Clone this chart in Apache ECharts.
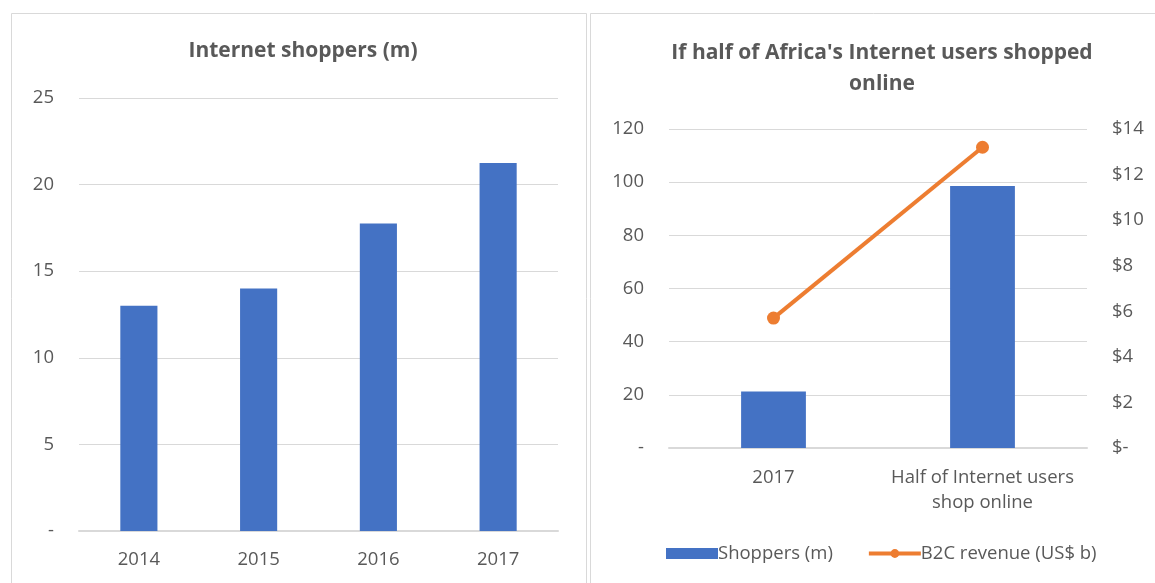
<!DOCTYPE html>
<html>
<head>
<meta charset="utf-8">
<script src="https://cdn.jsdelivr.net/npm/echarts@6/dist/echarts.min.js"></script>
<style>
html,body{margin:0;padding:0;background:#fff;}
#c{width:1155px;height:583px;}
</style>
</head>
<body>
<div id="c"></div>
<script>
// Left chart data
const years = ['2014', '2015', '2016', '2017'];
const shoppersByYear = [13.0, 14.0, 17.75, 21.25];
const leftTitle = 'Internet shoppers (m)';

// Right chart data
const scenarios = ['2017', 'Half of Internet users\nshop online'];
const shoppersScenario = [21.3, 98.6];
const b2cRevenue = [5.7, 13.2];
const rightTitle = "If half of Africa's Internet users shopped\nonline";
const seriesNames = ['Shoppers (m)', 'B2C revenue (US$ b)'];

const FONT = '"Open Sans", sans-serif';
const TXT = '#595959';
const GRID = '#d9d9d9';
const BLUE = '#4472C4';
const ORANGE = '#ED7D31';

const chart = echarts.init(document.getElementById('c'));
const labelStyle = {color: TXT, fontFamily: FONT, fontSize: 18.5};

chart.setOption({
  animation: false,
  backgroundColor: '#fff',
  graphic: [
    {type: 'rect', shape: {x: 11.5, y: 13.5, width: 575, height: 600}, style: {fill: 'none', stroke: GRID, lineWidth: 1}, silent: true, z: -1},
    {type: 'rect', shape: {x: 590.5, y: 13.5, width: 600, height: 600}, style: {fill: 'none', stroke: GRID, lineWidth: 1}, silent: true, z: -1}
  ],
  title: [
    {text: leftTitle, left: 298, top: 36, textAlign: 'center',
     textStyle: {color: TXT, fontFamily: FONT, fontWeight: 'bold', fontSize: 21}},
    {text: rightTitle, left: 877, top: 33, textAlign: 'center',
     textStyle: {color: TXT, fontFamily: FONT, fontWeight: 'bold', fontSize: 21, lineHeight: 31}}
  ],
  legend: {
    data: [
      {name: seriesNames[0], icon: 'rect'},
      {name: seriesNames[1], lineStyle: {width: 4, color: ORANGE}}
    ],
    left: 661, top: 539,
    itemWidth: 52, itemHeight: 11, itemGap: 34,
    textStyle: {color: TXT, fontFamily: FONT, fontSize: 18.5, padding: [0, 0, 0, -5]}
  },
  grid: [
    {left: 79, right: 1155 - 558, top: 98, bottom: 583 - 531},
    {left: 669, right: 1155 - 1087, top: 129, bottom: 583 - 448}
  ],
  xAxis: [
    {type: 'category', gridIndex: 0, data: years,
     axisLine: {lineStyle: {color: GRID, width: 2}}, axisTick: {show: false},
     axisLabel: Object.assign({margin: 19, interval: 0}, labelStyle)},
    {type: 'category', gridIndex: 1, data: scenarios,
     axisLine: {lineStyle: {color: GRID, width: 2}}, axisTick: {show: false},
     axisLabel: Object.assign({margin: 17, lineHeight: 25, interval: 0}, labelStyle)}
  ],
  yAxis: [
    {type: 'value', gridIndex: 0, min: 0, max: 25, interval: 5,
     axisLine: {show: false}, axisTick: {show: false},
     splitLine: {lineStyle: {color: GRID, width: 1}},
     axisLabel: Object.assign({margin: 25, formatter: v => v === 0 ? '-' : String(v)}, labelStyle)},
    {type: 'value', gridIndex: 1, min: 0, max: 120, interval: 20,
     axisLine: {show: false}, axisTick: {show: false},
     splitLine: {lineStyle: {color: GRID, width: 1}},
     axisLabel: Object.assign({margin: 25, formatter: v => v === 0 ? '-' : String(v)}, labelStyle)},
    {type: 'value', gridIndex: 1, position: 'right', min: 0, max: 14, interval: 2,
     axisLine: {show: false}, axisTick: {show: false}, splitLine: {show: false},
     axisLabel: Object.assign({margin: 25, formatter: v => v === 0 ? '$-' : '$' + v}, labelStyle)}
  ],
  series: [
    {type: 'bar', name: 'Internet shoppers', xAxisIndex: 0, yAxisIndex: 0,
     data: shoppersByYear, barWidth: '31%', itemStyle: {color: BLUE}},
    {type: 'bar', name: seriesNames[0], xAxisIndex: 1, yAxisIndex: 1,
     data: shoppersScenario, barWidth: '31%', itemStyle: {color: BLUE}},
    {type: 'line', name: seriesNames[1], xAxisIndex: 1, yAxisIndex: 2,
     data: b2cRevenue, symbol: 'circle', symbolSize: 13,
     lineStyle: {color: ORANGE, width: 4}, itemStyle: {color: ORANGE}}
  ]
});
</script>
</body>
</html>
